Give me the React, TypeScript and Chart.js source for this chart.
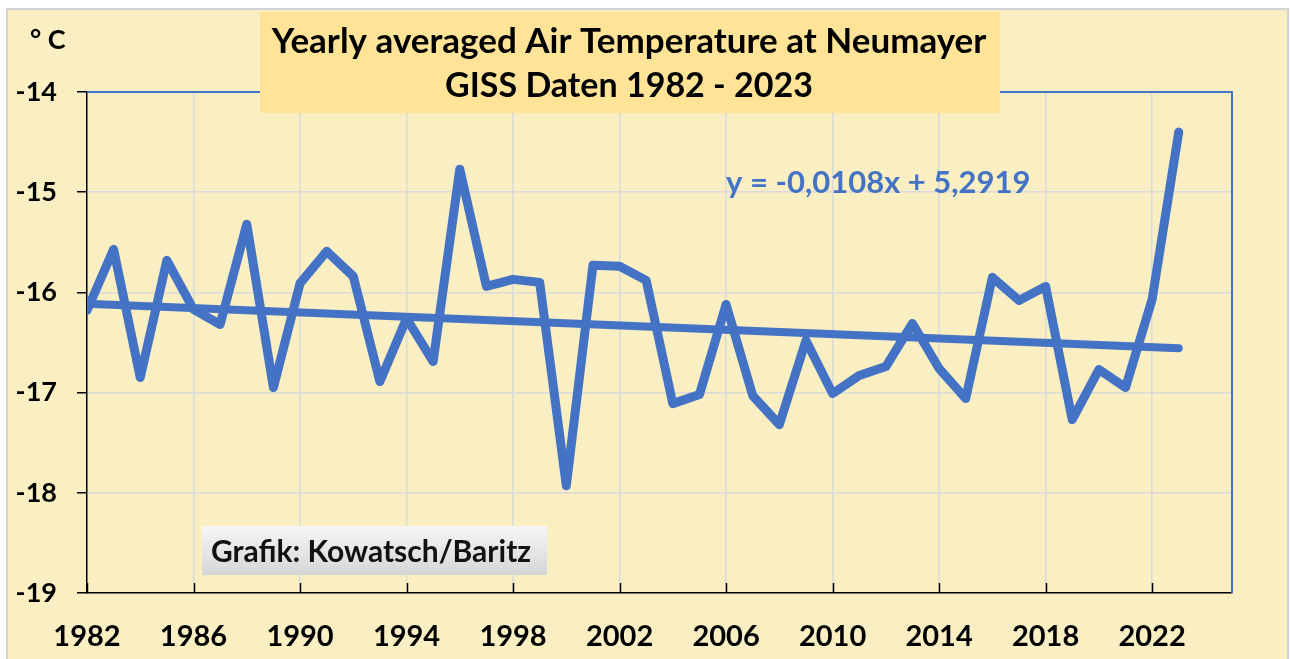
import React, { useEffect, useRef } from "react";
import { Chart, registerables } from "chart.js";

Chart.register(...registerables);

// ---- data ----
const years = [
  1982, 1983, 1984, 1985, 1986, 1987, 1988, 1989, 1990, 1991, 1992, 1993, 1994, 1995,
  1996, 1997, 1998, 1999, 2000, 2001, 2002, 2003, 2004, 2005, 2006, 2007, 2008, 2009,
  2010, 2011, 2012, 2013, 2014, 2015, 2016, 2017, 2018, 2019, 2020, 2021, 2022, 2023,
];
const temps = [
  -16.18, -15.57, -16.85, -15.68, -16.17, -16.32, -15.32, -16.95, -15.91, -15.59, -15.84, -16.89, -16.26, -16.69,
  -14.77, -15.94, -15.87, -15.9, -17.93, -15.73, -15.74, -15.88, -17.11, -17.02, -16.12, -17.03, -17.32, -16.48,
  -17.01, -16.83, -16.74, -16.31, -16.76, -17.06, -15.85, -16.08, -15.94, -17.27, -16.77, -16.95, -16.07, -14.4,
];
const xTickYears = [1982, 1986, 1990, 1994, 1998, 2002, 2006, 2010, 2014, 2018, 2022];
const yTickValues = [-19, -18, -17, -16, -15, -14];
const xMin = 1982;
const xMax = 2025;
const yMin = -19;
const yMax = -14;
const trendSlope = -0.0108;
const trendIntercept = 5.2919;
const titleLines = ["Yearly averaged Air Temperature at Neumayer", "GISS Daten 1982 - 2023"];
const unitLabel = "° C";
const equationLabel = "y = -0,0108x + 5,2919";
const creditLabel = "Grafik: Kowatsch/Baritz";

// ---- styles ----
const BLUE = "#4472C4";
const BG = "#F9EFC3";
const GRID = "#DADADA";
const FONT = "Lato, 'Open Sans', sans-serif";

const trendYears = [years[0], years[years.length - 1]];

const decorPlugin = {
  id: "decor",
  beforeDraw(chart: any) {
    const { ctx, width, height } = chart;
    ctx.save();
    ctx.fillStyle = "#ffffff";
    ctx.fillRect(0, 0, width, height);
    ctx.fillStyle = BG;
    ctx.fillRect(7, 9, width - 9, height - 9);
    ctx.strokeStyle = "#D4D4D4";
    ctx.lineWidth = 2;
    ctx.beginPath();
    ctx.moveTo(7, height);
    ctx.lineTo(7, 9);
    ctx.lineTo(width - 2, 9);
    ctx.lineTo(width - 2, height);
    ctx.stroke();
    ctx.restore();
  },
  afterDraw(chart: any) {
    const { ctx, chartArea } = chart;
    const xs = chart.scales.x;
    ctx.save();
    // blue frame top/right
    ctx.strokeStyle = BLUE;
    ctx.lineWidth = 2;
    ctx.beginPath();
    ctx.moveTo(chartArea.left, chartArea.top);
    ctx.lineTo(chartArea.right, chartArea.top);
    ctx.lineTo(chartArea.right, chartArea.bottom);
    ctx.stroke();
    // inner x tick marks
    ctx.strokeStyle = "#000";
    ctx.lineWidth = 1.5;
    xTickYears.forEach((yr) => {
      const px = Math.round(xs.getPixelForValue(yr)) + 0.5;
      ctx.beginPath();
      ctx.moveTo(px, chartArea.bottom - 10);
      ctx.lineTo(px, chartArea.bottom);
      ctx.stroke();
    });
    // title box
    ctx.fillStyle = "#FFE498";
    ctx.fillRect(260, 12, 740, 101);
    ctx.fillStyle = "#000";
    ctx.textAlign = "center";
    ctx.textBaseline = "middle";
    ctx.font = `bold 35px ${FONT}`;
    ctx.fillText(titleLines[0], 629, 42);
    ctx.font = `bold 34px ${FONT}`;
    ctx.fillText(titleLines[1], 629, 86);
    // unit
    ctx.textAlign = "left";
    ctx.font = `bold 27px ${FONT}`;
    ctx.fillText(unitLabel, 30, 40);
    // equation
    ctx.fillStyle = BLUE;
    ctx.font = `bold 31px ${FONT}`;
    ctx.fillText(equationLabel, 726, 183);
    // credit box
    const g = ctx.createLinearGradient(0, 526, 0, 575);
    g.addColorStop(0, "#F6F6F6");
    g.addColorStop(1, "#D6D6D6");
    ctx.fillStyle = g;
    ctx.fillRect(202, 526, 345, 49);
    ctx.fillStyle = "#111";
    ctx.font = `bold 30px ${FONT}`;
    ctx.fillText(creditLabel, 211, 552);
    ctx.restore();
  },
};

export default function App() {
  const canvasRef = useRef<HTMLCanvasElement | null>(null);

  useEffect(() => {
    const canvas = canvasRef.current;
    if (!canvas) return;
    const chart = new Chart(canvas, {
      type: "line",
      data: {
        datasets: [
          {
            data: years.map((y, i) => ({ x: y, y: temps[i] })),
            borderColor: BLUE,
            borderWidth: 9,
            borderJoinStyle: "round",
            borderCapStyle: "round",
            pointRadius: 0,
            tension: 0,
          },
          {
            data: trendYears.map((y) => ({ x: y, y: trendSlope * y + trendIntercept })),
            borderColor: BLUE,
            borderWidth: 8,
            borderCapStyle: "round",
            pointRadius: 0,
            tension: 0,
          },
        ],
      },
      options: {
        animation: false,
        responsive: false,
        devicePixelRatio: 1,
        layout: { padding: { left: 0, top: 92, right: 58, bottom: 0 } },
        plugins: { legend: { display: false }, tooltip: { enabled: false }, title: { display: false } },
        scales: {
          x: {
            type: "linear",
            min: xMin,
            max: xMax,
            afterBuildTicks: (scale: any) => {
              scale.ticks = xTickYears.map((v) => ({ value: v }));
            },
            afterFit: (scale: any) => {
              scale.height = 66;
            },
            ticks: {
              color: "#000",
              font: { family: FONT, size: 29, weight: "bold" },
              padding: 26,
              maxRotation: 0,
              autoSkip: false,
              callback: (v: any) => String(v),
            },
            grid: {
              color: (c: any) => (c.tick && c.tick.value === xMin ? "rgba(0,0,0,0)" : GRID),
              lineWidth: 1.5,
              drawTicks: false,
            },
            border: { display: true, color: "#000", width: 1.5 },
          },
          y: {
            min: yMin,
            max: yMax,
            afterBuildTicks: (scale: any) => {
              scale.ticks = yTickValues.map((v) => ({ value: v }));
            },
            afterFit: (scale: any) => {
              scale.width = 87;
            },
            ticks: {
              color: "#000",
              font: { family: FONT, size: 27, weight: "bold" },
              padding: 20,
              callback: (v: any) => String(v),
            },
            grid: {
              color: (c: any) => (c.tick && (c.tick.value === yMax || c.tick.value === yMin) ? "rgba(0,0,0,0)" : GRID),
              lineWidth: 1.5,
              drawTicks: true,
              tickLength: 10,
              tickColor: "#000",
            },
            border: { display: true, color: "#000", width: 1.5 },
          },
        },
      },
      plugins: [decorPlugin],
    } as any);
    return () => chart.destroy();
  }, []);

  return (
    <div style={{ position: "fixed", left: 0, top: 0, width: 1290, height: 659 }}>
      <canvas ref={canvasRef} width={1290} height={659} style={{ width: 1290, height: 659, display: "block" }} />
    </div>
  );
}
